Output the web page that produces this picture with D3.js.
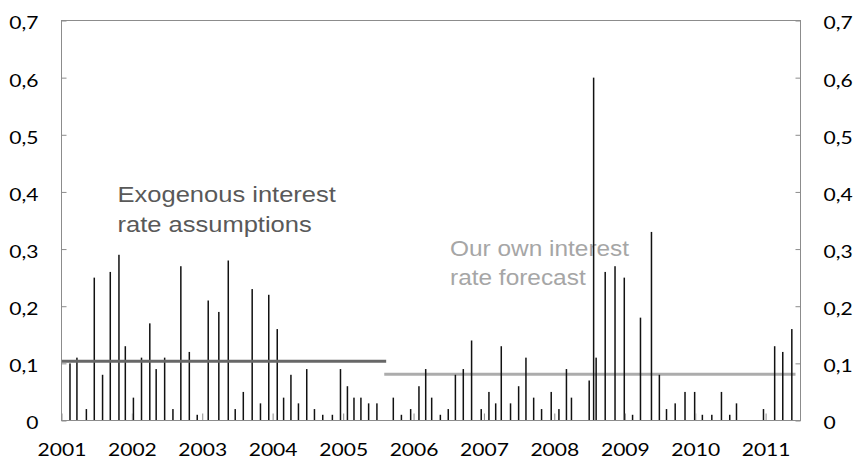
<!DOCTYPE html>
<html>
<head>
<meta charset="utf-8">
<script src="https://cdn.jsdelivr.net/npm/d3@7"></script>
<style>
  html, body { margin: 0; padding: 0; background: #fff; }
  svg { display: block; }
</style>
</head>
<body>
<svg id="chart" width="854" height="459"></svg>
<script>
// ---- Data ----
const barDates = [
  "2001-02-14","2001-03-22","2001-05-10","2001-06-20","2001-08-02","2001-09-11","2001-10-26","2001-11-28",
  "2002-01-09","2002-02-20","2002-04-04","2002-05-07","2002-06-20","2002-08-02","2002-09-12","2002-10-26","2002-12-06",
  "2003-02-01","2003-03-28","2003-05-16","2003-06-21","2003-08-02","2003-09-17","2003-10-30","2003-12-12",
  "2004-01-25","2004-02-27","2004-04-05","2004-05-14","2004-06-26","2004-08-05","2004-09-17","2004-11-06","2004-12-18",
  "2005-01-23","2005-02-26","2005-04-03","2005-05-13","2005-06-25","2005-09-18","2005-10-30","2005-12-17",
  "2006-01-29","2006-03-05","2006-04-05","2006-05-20","2006-06-30","2006-08-06","2006-09-16","2006-10-29","2006-12-18",
  "2007-01-27","2007-03-03","2007-04-01","2007-05-19","2007-06-30","2007-08-07","2007-09-16","2007-10-27","2007-12-16",
  "2008-01-25","2008-03-04","2008-03-30","2008-06-30","2008-07-23","2008-08-05","2008-09-21","2008-11-11","2008-12-29",
  "2009-02-10","2009-03-23","2009-05-19","2009-06-29","2009-08-05","2009-09-19","2009-11-09","2009-12-29",
  "2010-02-07","2010-03-28","2010-05-17","2010-06-29","2010-08-03","2010-12-21",
  "2011-02-17","2011-03-31","2011-05-17"
];
const barValues = [
  0.10,0.11,0.02,0.25,0.08,0.26,0.29,0.13,
  0.04,0.11,0.17,0.09,0.11,0.02,0.27,0.12,0.01,
  0.21,0.19,0.28,0.02,0.05,0.23,0.03,0.22,
  0.16,0.04,0.08,0.03,0.09,0.02,0.01,0.01,0.09,
  0.06,0.04,0.04,0.03,0.03,0.04,0.01,0.02,
  0.06,0.09,0.04,0.01,0.02,0.08,0.09,0.14,0.02,
  0.05,0.03,0.13,0.03,0.06,0.11,0.04,0.02,0.05,
  0.02,0.09,0.04,0.07,0.60,0.11,0.26,0.27,0.25,
  0.01,0.18,0.33,0.08,0.02,0.03,0.05,0.05,
  0.01,0.01,0.05,0.01,0.03,0.02,
  0.13,0.12,0.16
];
// average levels for the two regimes
const segmentNames  = ["Exogenous interest rate assumptions", "Our own interest rate forecast"];
const segmentStarts = ["2001-01-01", "2005-08-02"];
const segmentEnds   = ["2005-08-12", "2011-06-05"];
const segmentValues = [0.1036, 0.0808];
const labelLines = [["Exogenous interest", "rate assumptions"], ["Our own interest", "rate forecast"]];
const yTicks = [0, 0.1, 0.2, 0.3, 0.4, 0.5, 0.6, 0.7];
const xDomain = ["2001-01-01", "2011-07-01"];

// ---- Layout ----
const parse = d3.timeParse("%Y-%m-%d");
const L = 61.5, R = 800.5, T = 20.5, B = 420.5;
const svg = d3.select("#chart");

const x = d3.scaleTime().domain(xDomain.map(parse)).range([L, R]);
const y = d3.scaleLinear().domain([0, 0.7]).range([B, T]);

const axisColor = "#8c8c8c";
const labelFont = "Lato, 'Open Sans', sans-serif";
const sx = 1.17;

// annotation texts (behind bars)
const annColors = ["#595959", "#a6a6a6"];
const annPos = [[117.5, 202, 232, 1.16], [450, 256, 285, 1.11]];
labelLines.forEach((lines, i) => {
  lines.forEach((ln, j) => {
    svg.append("text")
      .attr("transform", `translate(${annPos[i][0]},${annPos[i][1 + j]}) scale(${annPos[i][3]},1)`)
      .attr("font-family", "'Liberation Sans', Arial, sans-serif")
      .attr("font-size", 22)
      .attr("fill", annColors[i])
      .text(ln);
  });
});

function segLine(i, color) {
  svg.append("line")
    .attr("x1", x(parse(segmentStarts[i]))).attr("x2", x(parse(segmentEnds[i])))
    .attr("y1", y(segmentValues[i])).attr("y2", y(segmentValues[i]))
    .attr("stroke", color).attr("stroke-width", 3);
}
segLine(1, "#acacac");

// bars
const bars = barDates.map((d, i) => ({ date: parse(d), value: barValues[i] }));
svg.append("g").selectAll("rect").data(bars).join("rect")
  .attr("x", d => x(d.date) - 0.75)
  .attr("width", 1.5)
  .attr("y", d => y(d.value))
  .attr("height", d => y(0) - y(d.value))
  .attr("fill", "#111");

segLine(0, "#676767");

// frame
svg.append("rect")
  .attr("x", L).attr("y", T).attr("width", R - L).attr("height", B - T)
  .attr("fill", "none").attr("stroke", axisColor).attr("stroke-width", 1);

const fmt = v => d3.format(".1f")(v).replace(".", ",").replace(/^0,0$/, "0");

const gl = svg.append("g").attr("transform", `translate(${L},0)`)
  .call(d3.axisLeft(y).tickValues(yTicks).tickSize(-5).tickFormat(fmt));
const gr = svg.append("g").attr("transform", `translate(${R},0)`)
  .call(d3.axisRight(y).tickValues(yTicks).tickSize(-5).tickFormat(fmt));
const gb = svg.append("g").attr("transform", `translate(0,${B})`)
  .call(d3.axisBottom(x).ticks(d3.timeYear.every(1)).tickSize(-7).tickFormat(d3.timeFormat("%Y")));

[gl, gr, gb].forEach(g => {
  g.select(".domain").remove();
  g.selectAll(".tick line").attr("stroke", axisColor);
  g.selectAll(".tick text")
    .attr("font-family", labelFont)
    .attr("font-size", 18)
    .attr("fill", "#000");
});
gl.selectAll(".tick text").attr("x", 0).attr("dy", "0.36em")
  .attr("transform", `translate(-23,2) scale(${sx},1)`);
gr.selectAll(".tick text").attr("x", 0).attr("dy", "0.36em")
  .attr("transform", `translate(23,2) scale(${sx},1)`);
gb.selectAll(".tick text").attr("y", 0).attr("dy", 0)
  .attr("transform", `translate(0,35) scale(${sx},1)`);
</script>
</body>
</html>
